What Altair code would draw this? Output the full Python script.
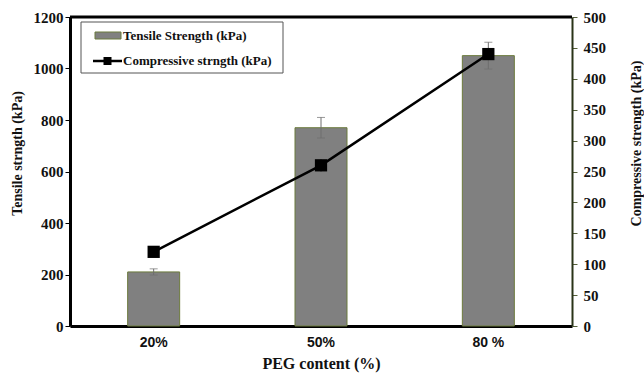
import altair as alt
import pandas as pd

# PEG content groups and measured strengths
categories = ["20%", "50%", "80 %"]
tensile = [210, 770, 1050]          # kPa, left axis
tensile_err = [12, 40, 52]
compressive = [120, 260, 440]       # kPa, right axis
compressive_err = [5, 10, 8]

legend_labels = ["Tensile Strength (kPa)", "Compressive strngth (kPa)"]

df = pd.DataFrame({
    "PEG": categories,
    "tensile": tensile,
    "t_lo": [v - e for v, e in zip(tensile, tensile_err)],
    "t_hi": [v + e for v, e in zip(tensile, tensile_err)],
    "compressive": compressive,
    "c_lo": [v - e for v, e in zip(compressive, compressive_err)],
    "c_hi": [v + e for v, e in zip(compressive, compressive_err)],
})

SERIF = "Liberation Serif"
SANS = "Liberation Sans"
W, H = 502, 309

x_axis = alt.Axis(
    title="PEG content (%)", labelAngle=0, ticks=False,
    domainColor="black", domainWidth=3,
    labelFont=SANS, labelFontWeight="bold", labelFontSize=14, labelColor="#111",
    labelPadding=9,
    titleFont=SERIF, titleFontWeight="bold", titleFontSize=16, titleColor="#111",
    titlePadding=6,
)
x_scale = alt.Scale(paddingInner=0, paddingOuter=0)


def xenc():
    return alt.X("PEG:N", sort=categories, scale=x_scale, axis=x_axis)


y_left_scale = alt.Scale(domain=[0, 1200], nice=False)
y_right_scale = alt.Scale(domain=[0, 500], nice=False)

left_axis = alt.Axis(
    title="Tensile strngth (kPa)", values=list(range(0, 1201, 200)), format="d",
    grid=False,
    domainColor="black", domainWidth=3, tickColor="black", tickSize=5, tickWidth=1,
    labelFont=SERIF, labelFontWeight="bold", labelFontSize=15, labelColor="#111",
    labelPadding=2,
    titleFont=SERIF, titleFontWeight="bold", titleFontSize=14, titleColor="#111",
    titleAngle=270, titleX=-53, titleY=136, titleBaseline="middle",
)
right_axis = alt.Axis(
    title="Compressive strength (kPa)", orient="right", values=list(range(0, 501, 50)),
    format="d", grid=False, domainColor="#2a3418", domainWidth=2, tickColor="#55603a",
    tickSize=5, tickWidth=1,
    labelFont=SERIF, labelFontWeight="bold", labelFontSize=15, labelColor="#111",
    labelPadding=6,
    titleFont=SERIF, titleFontWeight="bold", titleFontSize=14, titleColor="#111",
    titleAngle=270, titleX=64, titleY=126, titleBaseline="middle",
)


def yl(field):
    return alt.Y(field, type="quantitative", scale=y_left_scale, axis=left_axis)


def yr(field):
    return alt.Y(field, type="quantitative", scale=y_right_scale, axis=right_axis)


base = alt.Chart(df)

bars = base.mark_bar(size=52, color="#808080", stroke="#6b7a3c", strokeWidth=1).encode(
    x=xenc(), y=yl("tensile"),
)
t_err = base.mark_rule(color="#6e6e6e", strokeWidth=1).encode(
    x=xenc(), y=yl("t_lo"), y2="t_hi:Q"
)
t_cap_lo = base.mark_tick(color="#6e6e6e", size=8, thickness=1).encode(
    x=xenc(), y=yl("t_lo")
)
t_cap_hi = base.mark_tick(color="#6e6e6e", size=8, thickness=1).encode(
    x=xenc(), y=yl("t_hi")
)
left_layer = alt.layer(bars, t_err, t_cap_lo, t_cap_hi)

line = base.mark_line(color="black", strokeWidth=2.5).encode(
    x=xenc(), y=yr("compressive"),
)
c_err = base.mark_rule(color="#333", strokeWidth=1).encode(
    x=xenc(), y=yr("c_lo"), y2="c_hi:Q"
)
pts = base.mark_square(size=150, color="black", opacity=1).encode(
    x=xenc(), y=yr("compressive")
)
right_layer = alt.layer(line, c_err, pts)

# top frame line
one = alt.Chart(pd.DataFrame({"k": [0]}))
top_line = one.mark_rule(color="black", strokeWidth=3).encode(
    x=alt.value(0), x2=alt.value(W), y=alt.value(0)
)

# legend box
leg_box = one.mark_rect(fill="white", stroke="#555", strokeWidth=1).encode(
    x=alt.value(11), x2=alt.value(213), y=alt.value(5), y2=alt.value(56)
)
leg_bar = one.mark_rect(fill="#808080", stroke="#6b7a3c", strokeWidth=1).encode(
    x=alt.value(25), x2=alt.value(51), y=alt.value(15), y2=alt.value(22)
)
leg_line = one.mark_rule(color="black", strokeWidth=2.5).encode(
    x=alt.value(23), x2=alt.value(52), y=alt.value(44)
)
leg_pt = one.mark_square(size=64, color="black", opacity=1).encode(
    x=alt.value(37.5), y=alt.value(44)
)
leg_t1 = one.mark_text(
    text=legend_labels[0], align="left", baseline="middle", font=SERIF,
    fontWeight="bold", fontSize=13, color="#111"
).encode(x=alt.value(53), y=alt.value(19))
leg_t2 = one.mark_text(
    text=legend_labels[1], align="left", baseline="middle", font=SERIF,
    fontWeight="bold", fontSize=13, color="#111"
).encode(x=alt.value(53), y=alt.value(44))

chart = alt.layer(
    left_layer, right_layer, top_line,
    leg_box, leg_bar, leg_line, leg_pt, leg_t1, leg_t2,
).resolve_scale(y="independent").properties(
    width=W, height=H,
    autosize=alt.AutoSizeParams(type="none"),
    padding={"left": 70, "top": 17, "right": 72, "bottom": 51},
    background="white",
).configure_view(stroke=None).configure_axisY(
    labelFont=SERIF, labelFontWeight="bold", labelFontSize=15, labelColor="#111"
).configure_axisX(
    labelFont=SANS, labelFontWeight="bold", labelFontSize=14, labelColor="#111"
)

chart.save("out.html", embed_options={"renderer": "svg", "actions": False})
